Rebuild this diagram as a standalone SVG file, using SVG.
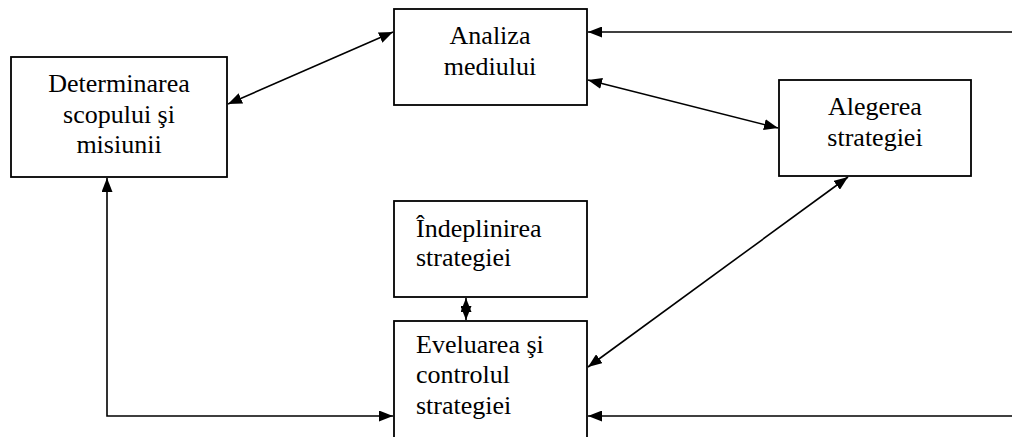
<svg xmlns="http://www.w3.org/2000/svg" width="1013" height="437" viewBox="0 0 1013 437">
<style>
.box{fill:#fff;stroke:#000;stroke-width:1.8}
.t{font-family:'Liberation Serif','Times New Roman',Times,'DejaVu Serif',serif;font-size:26px;fill:#000}
.c{text-anchor:middle}
.ln{fill:none;stroke:#000;stroke-width:1.6}
</style>
<defs>
<marker id="ah" viewBox="0 0 14 11" refX="14" refY="5.5" markerWidth="14" markerHeight="11" markerUnits="userSpaceOnUse" orient="auto-start-reverse">
<path d="M0,0 L14,5.5 L0,11 Z" fill="#000"/>
</marker>
</defs>
<rect width="1013" height="437" fill="#fff"/>
<g id="n1"><rect class="box" x="11" y="57" width="216" height="120"/>
<text class="t c" x="119" y="92">Determinarea</text>
<text class="t c" x="119" y="123">scopului şi</text>
<text class="t c" x="119" y="153">misiunii</text></g>
<g id="n2"><rect class="box" x="394" y="9" width="193" height="96"/>
<text class="t c" x="490" y="44">Analiza</text>
<text class="t c" x="490" y="75">mediului</text></g>
<g id="n3"><rect class="box" x="779" y="80" width="192" height="96"/>
<text class="t c" x="875" y="115">Alegerea</text>
<text class="t c" x="875" y="146">strategiei</text></g>
<g id="n4"><rect class="box" x="394" y="201" width="193" height="96"/>
<text class="t" x="416" y="237">Îndeplinirea</text>
<text class="t" x="416" y="266">strategiei</text></g>
<g id="n5"><rect class="box" x="394" y="321" width="193" height="130"/>
<text class="t" x="416" y="353">Eveluarea şi</text>
<text class="t" x="416" y="383">controlul</text>
<text class="t" x="416" y="414">strategiei</text></g>
<g id="connectors">
<line class="ln" x1="228" y1="104" x2="393" y2="32" marker-start="url(#ah)" marker-end="url(#ah)"/>
<line class="ln" x1="588" y1="80" x2="778" y2="128" marker-start="url(#ah)" marker-end="url(#ah)"/>
<line class="ln" x1="1012" y1="32" x2="588" y2="32" marker-end="url(#ah)"/>
<line class="ln" x1="588" y1="367" x2="848" y2="177" marker-start="url(#ah)" marker-end="url(#ah)"/>
<line class="ln" x1="1012" y1="416" x2="588" y2="416" marker-end="url(#ah)"/>
<polyline class="ln" points="393,416 107,416 107,178" marker-start="url(#ah)" marker-end="url(#ah)"/>
<line class="ln" x1="466" y1="298" x2="466" y2="320" marker-start="url(#ah)" marker-end="url(#ah)"/>
</g>
</svg>
